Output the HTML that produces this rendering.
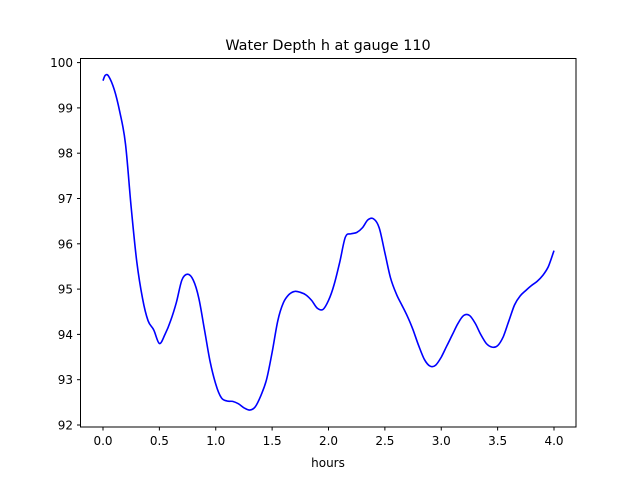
<!DOCTYPE html>
<html><head><meta charset="utf-8"><style>
body{margin:0;background:#fff}
svg{display:block;font-family:"DejaVu Sans","Liberation Sans",sans-serif}
</style></head><body>
<svg id="chart" width="640" height="480" viewBox="0 0 640 480">
<rect width="640" height="480" fill="#fff"/>
<text x="328" y="50" font-size="14.4" text-anchor="middle">Water Depth h at gauge 110</text>
<g id="xticks"></g>
<g id="yticks"></g>
<path id="line" fill="none" stroke="#0000ff" stroke-width="1.6" stroke-linejoin="round"/>
<rect x="80.5" y="58.5" width="495.5" height="368.5" fill="none" stroke="#000" stroke-width="1"/>
<text x="328" y="467" font-size="12" text-anchor="middle">hours</text>
</svg>
<script>
const hours=[0,0.02,0.05,0.1,0.15,0.2,0.25,0.3,0.35,0.4,0.45,0.5,0.55,0.6,0.65,0.7,0.75,0.8,0.85,0.9,0.95,1.0,1.05,1.1,1.15,1.2,1.25,1.3,1.35,1.4,1.45,1.5,1.55,1.6,1.65,1.7,1.75,1.8,1.85,1.9,1.95,2.0,2.05,2.1,2.15,2.2,2.25,2.3,2.35,2.4,2.45,2.5,2.55,2.6,2.65,2.7,2.75,2.8,2.85,2.9,2.95,3.0,3.05,3.1,3.15,3.2,3.25,3.3,3.35,3.4,3.45,3.5,3.55,3.6,3.65,3.7,3.75,3.8,3.85,3.9,3.95,4.0];
const depth=[99.6,99.72,99.7,99.4,98.9,98.2,96.8,95.6,94.8,94.3,94.1,93.8,94.0,94.3,94.7,95.2,95.33,95.2,94.8,94.1,93.4,92.9,92.6,92.53,92.52,92.47,92.38,92.33,92.4,92.65,93.0,93.6,94.3,94.7,94.88,94.95,94.93,94.87,94.75,94.58,94.55,94.75,95.1,95.6,96.15,96.22,96.25,96.35,96.53,96.55,96.35,95.8,95.25,94.9,94.65,94.4,94.1,93.75,93.45,93.3,93.32,93.5,93.75,94.0,94.25,94.42,94.42,94.25,94.0,93.8,93.72,93.75,93.95,94.3,94.65,94.85,94.97,95.08,95.17,95.3,95.5,95.85];
const xTicks=[0,0.5,1.0,1.5,2.0,2.5,3.0,3.5,4.0];
const xTickLabels=["0.0","0.5","1.0","1.5","2.0","2.5","3.0","3.5","4.0"];
const yTicks=[92,93,94,95,96,97,98,99,100];
const yTickLabels=["92","93","94","95","96","97","98","99","100"];
const X=v=>103+v*112.75;
const Y=v=>425-(v-92)*45.3;
const NS="http://www.w3.org/2000/svg";
const xg=document.getElementById('xticks'),yg=document.getElementById('yticks');
xTicks.forEach((t,i)=>{
 const l=document.createElementNS(NS,'line');
 l.setAttribute('x1',X(t));l.setAttribute('x2',X(t));l.setAttribute('y1',427);l.setAttribute('y2',430.5);l.setAttribute('stroke','#000');
 
 
 xg.appendChild(l);
 const s=document.createElementNS(NS,'text');
 s.setAttribute('x',X(t));s.setAttribute('y',445);s.setAttribute('font-size','12');s.setAttribute('text-anchor','middle');
 s.textContent=xTickLabels[i];
 
 
 xg.appendChild(s);
});
yTicks.forEach((t,i)=>{
 const l=document.createElementNS(NS,'line');
 l.setAttribute('x1',77);l.setAttribute('x2',80.5);l.setAttribute('y1',Y(t));l.setAttribute('y2',Y(t));l.setAttribute('stroke','#000');
 
 
 yg.appendChild(l);
 const s=document.createElementNS(NS,'text');
 s.setAttribute('x',73);s.setAttribute('y',Y(t)+4.5);s.setAttribute('font-size','12');s.setAttribute('text-anchor','end');
 s.textContent=yTickLabels[i];
 
 
 yg.appendChild(s);
});
const P=hours.map((h,i)=>[X(h),Y(depth[i])]);
let d='M'+P[0][0].toFixed(1)+','+P[0][1].toFixed(1);
for(let i=0;i<P.length-1;i++){
 const p0=P[i-1]||P[i],p1=P[i],p2=P[i+1],p3=P[i+2]||P[i+1];
 const c1=[p1[0]+(p2[0]-p0[0])/6,p1[1]+(p2[1]-p0[1])/6];
 const c2=[p2[0]-(p3[0]-p1[0])/6,p2[1]-(p3[1]-p1[1])/6];
 d+='C'+c1.map(v=>v.toFixed(1)).join(',')+' '+c2.map(v=>v.toFixed(1)).join(',')+' '+p2.map(v=>v.toFixed(1)).join(',');
}
document.getElementById('line').setAttribute('d',d);
</script>
</body></html>
